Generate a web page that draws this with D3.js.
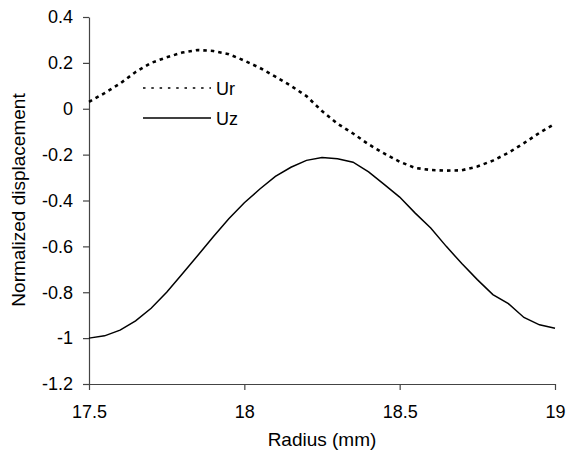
<!DOCTYPE html>
<html><head><meta charset="utf-8">
<script src="https://cdn.jsdelivr.net/npm/d3@7"></script>
<style>body{margin:0;background:#fff}svg{display:block}text{font-family:"Liberation Sans",Arial,sans-serif}</style>
</head><body><svg id="c" width="568" height="457"></svg>
<script>
const radius = [17.5,17.55,17.6,17.65,17.7,17.75,17.8,17.85,17.9,17.95,18.0,18.05,18.1,18.15,18.2,18.25,18.3,18.35,18.4,18.45,18.5,18.55,18.6,18.65,18.7,18.75,18.8,18.85,18.9,18.95,19.0];
const ur = [0.03,0.068,0.11,0.16,0.2,0.224,0.245,0.256,0.252,0.238,0.21,0.178,0.14,0.1,0.055,-0.01,-0.065,-0.108,-0.155,-0.195,-0.231,-0.258,-0.267,-0.27,-0.268,-0.252,-0.226,-0.192,-0.15,-0.105,-0.065];
const uz = [-1.0,-0.99,-0.965,-0.925,-0.87,-0.8,-0.72,-0.64,-0.558,-0.48,-0.41,-0.35,-0.295,-0.255,-0.225,-0.213,-0.218,-0.233,-0.275,-0.33,-0.385,-0.455,-0.52,-0.6,-0.675,-0.745,-0.81,-0.85,-0.91,-0.942,-0.957];
const xTicks = [17.5,18,18.5,19];
const yTicks = [-1.2,-1,-0.8,-0.6,-0.4,-0.2,0,0.2,0.4];
const seriesNames = ["Ur","Uz"];

const svg = d3.select("#c");
const x = d3.scaleLinear().domain([17.5,19]).range([89,555]);
const y = d3.scaleLinear().domain([-1.2,0.4]).range([384,17]);
const axisColor = "#444";

const gx = svg.append("g").attr("transform","translate(0,384)")
  .call(d3.axisBottom(x).tickValues(xTicks).tickSize(6).tickSizeOuter(0).tickPadding(15).tickFormat(d=>String(d)));
const gy = svg.append("g").attr("transform","translate(89,0)")
  .call(d3.axisLeft(y).tickValues(yTicks).tickSize(6).tickSizeOuter(0).tickPadding(10).tickFormat(d=>String(+d.toFixed(1))));
[gx,gy].forEach(g=>{
  g.select(".domain").attr("stroke",axisColor).attr("stroke-width",1.2);
  g.selectAll(".tick line").attr("stroke",axisColor).attr("stroke-width",1.2);
  g.selectAll(".tick text").attr("fill","#000").style("font-size","18px");
});

const line = vals => d3.line().x((d,i)=>x(radius[i])).y(d=>y(d))(vals);
svg.append("path").attr("d",line(ur)).attr("fill","none").attr("stroke","#000")
  .attr("stroke-width",2.6).attr("stroke-dasharray","3.5,4");
svg.append("path").attr("d",line(uz)).attr("fill","none").attr("stroke","#000")
  .attr("stroke-width",1.5);

// legend
const lg = svg.append("g");
[0,1].forEach(i=>{
  const yy = 88 + i*30;
  lg.append("line").attr("x1",143).attr("x2",211).attr("y1",yy).attr("y2",yy)
    .attr("stroke","#000").attr("stroke-width",1.6)
    .attr("stroke-dasharray", i===0 ? "2.5,5.8" : null);
  lg.append("text").attr("x",216).attr("y",yy+6.5).text(seriesNames[i]).style("font-size","18px");
});

svg.append("text").attr("x",322).attr("y",446).attr("text-anchor","middle").style("font-size","19px").text("Radius (mm)");
svg.append("text").attr("transform","translate(25,200) rotate(-90)").attr("text-anchor","middle").style("font-size","19px").text("Normalized displacement");
</script></body></html>
